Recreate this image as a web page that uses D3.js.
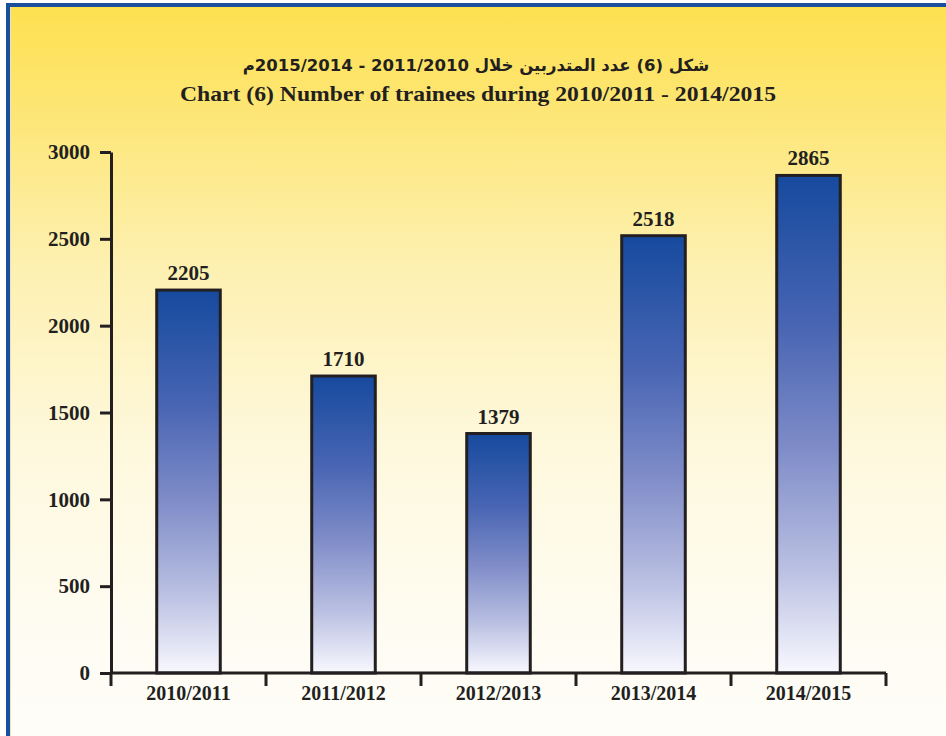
<!DOCTYPE html>
<html>
<head>
<meta charset="utf-8">
<script src="https://cdn.jsdelivr.net/npm/d3@7/dist/d3.min.js"></script>
<style>
  html, body { margin: 0; padding: 0; background: #ffffff; }
  svg { display: block; }
</style>
</head>
<body>
<script>
// ---- data ----
const categories = ["2010/2011", "2011/2012", "2012/2013", "2013/2014", "2014/2015"];
const trainees = [2205, 1710, 1379, 2518, 2865];
const yTicks = [0, 500, 1000, 1500, 2000, 2500, 3000];
const titleArabic = "شكل (6) عدد المتدربين خلال 2011/2010 - 2015/2014م";
const titleEnglish = "Chart (6) Number of trainees during 2010/2011 - 2014/2015";

const W = 946, H = 736;
const svg = d3.select("body").append("svg").attr("width", W).attr("height", H);
const defs = svg.append("defs");

// background gradient
const bg = defs.append("linearGradient").attr("id", "bgGrad")
  .attr("x1", 0).attr("y1", 0).attr("x2", 0).attr("y2", 1);
[[0, "#fee04e"], [0.15, "#fde676"], [0.35, "#fdf0af"], [0.6, "#fef8dc"], [0.85, "#fefcf2"], [1, "#fefdf8"]]
  .forEach(([o, c]) => bg.append("stop").attr("offset", o).attr("stop-color", c));

// bar gradient
const bar = defs.append("linearGradient").attr("id", "barGrad")
  .attr("x1", 0).attr("y1", 0).attr("x2", 0).attr("y2", 1);
[[0, "#164a9e"], [0.3, "#4865b3"], [0.55, "#7f8cc8"], [0.8, "#bcc2e3"], [1, "#f8f8fe"]]
  .forEach(([o, c]) => bar.append("stop").attr("offset", o).attr("stop-color", c));

svg.append("rect").attr("x", 0).attr("y", 0).attr("width", W).attr("height", H).attr("fill", "#ffffff");
svg.append("rect").attr("x", 6).attr("y", 3).attr("width", W - 6).attr("height", H - 3).attr("fill", "url(#bgGrad)");
// frame (top & left)
svg.append("rect").attr("x", 6).attr("y", 3).attr("width", W - 6).attr("height", 4).attr("fill", "#1a4f9e");
svg.append("rect").attr("x", 6).attr("y", 3).attr("width", 4).attr("height", H - 3).attr("fill", "#1a4f9e");
svg.append("rect").attr("x", 10).attr("y", 7).attr("width", 1).attr("height", H - 7).attr("fill", "#e9e2bf");

// titles
svg.append("text")
  .attr("x", 476).attr("y", 71)
  .attr("text-anchor", "middle")
  .attr("direction", "rtl")
  .style("font-family", "'DejaVu Sans', sans-serif")
  .style("font-weight", "bold")
  .style("font-size", "16.5px")
  .attr("fill", "#231f20")
  .text(titleArabic);

svg.append("text")
  .attr("x", 180).attr("y", 101)
  .attr("textLength", 596).attr("lengthAdjust", "spacingAndGlyphs")
  .style("font-family", "'Liberation Serif', 'Times New Roman', serif")
  .style("font-weight", "bold")
  .style("font-size", "22px")
  .attr("fill", "#231f20")
  .text(titleEnglish);

// scales
const x = d3.scaleBand().domain(categories).range([111, 886]).paddingInner(0.59).paddingOuter(0.295);
const slot = d3.scaleBand().domain(categories).range([111, 886]).padding(0);
const y = d3.scaleLinear().domain([0, 3000]).range([673, 152]);

const serif = "'Liberation Serif', 'Times New Roman', serif";

// bars
svg.append("g").selectAll("rect").data(trainees).join("rect")
  .attr("x", (d, i) => x(categories[i]))
  .attr("y", d => y(d))
  .attr("width", x.bandwidth())
  .attr("height", d => y(0) - y(d))
  .attr("fill", "url(#barGrad)")
  .attr("stroke", "#231f20")
  .attr("stroke-width", 3);

// value labels
svg.append("g").selectAll("text").data(trainees).join("text")
  .attr("x", (d, i) => x(categories[i]) + x.bandwidth() / 2)
  .attr("y", d => y(d) - 10)
  .attr("text-anchor", "middle")
  .style("font-family", serif).style("font-weight", "bold").style("font-size", "21px")
  .attr("fill", "#231f20")
  .text(d => d);

// y axis
const yAxis = svg.append("g").attr("transform", "translate(111,0)")
  .call(d3.axisLeft(y).tickValues(yTicks).tickFormat(d3.format("d")).tickSize(11).tickPadding(10).tickSizeOuter(0));
yAxis.select(".domain").attr("stroke", "#231f20").attr("stroke-width", 3);
yAxis.selectAll(".tick line").attr("stroke", "#231f20").attr("stroke-width", 3);
yAxis.selectAll(".tick text")
  .style("font-family", serif).style("font-weight", "bold").style("font-size", "21px")
  .attr("fill", "#231f20");

// x axis with boundary ticks
const xg = svg.append("g").attr("transform", `translate(0,${y(0)})`);
xg.append("line").attr("x1", 111).attr("x2", 886).attr("y1", 0).attr("y2", 0)
  .attr("stroke", "#231f20").attr("stroke-width", 3);
const bounds = categories.map(c => slot(c)).concat([slot(categories[categories.length - 1]) + slot.bandwidth()]);
xg.selectAll("line.tk").data(bounds).join("line").attr("class", "tk")
  .attr("x1", d => d).attr("x2", d => d).attr("y1", 0).attr("y2", 13)
  .attr("stroke", "#231f20").attr("stroke-width", 3);
xg.selectAll("text").data(categories).join("text")
  .attr("x", d => slot(d) + slot.bandwidth() / 2)
  .attr("y", 27)
  .attr("text-anchor", "middle")
  .style("font-family", serif).style("font-weight", "bold").style("font-size", "20px")
  .attr("fill", "#231f20")
  .text(d => d);
</script>
</body>
</html>
